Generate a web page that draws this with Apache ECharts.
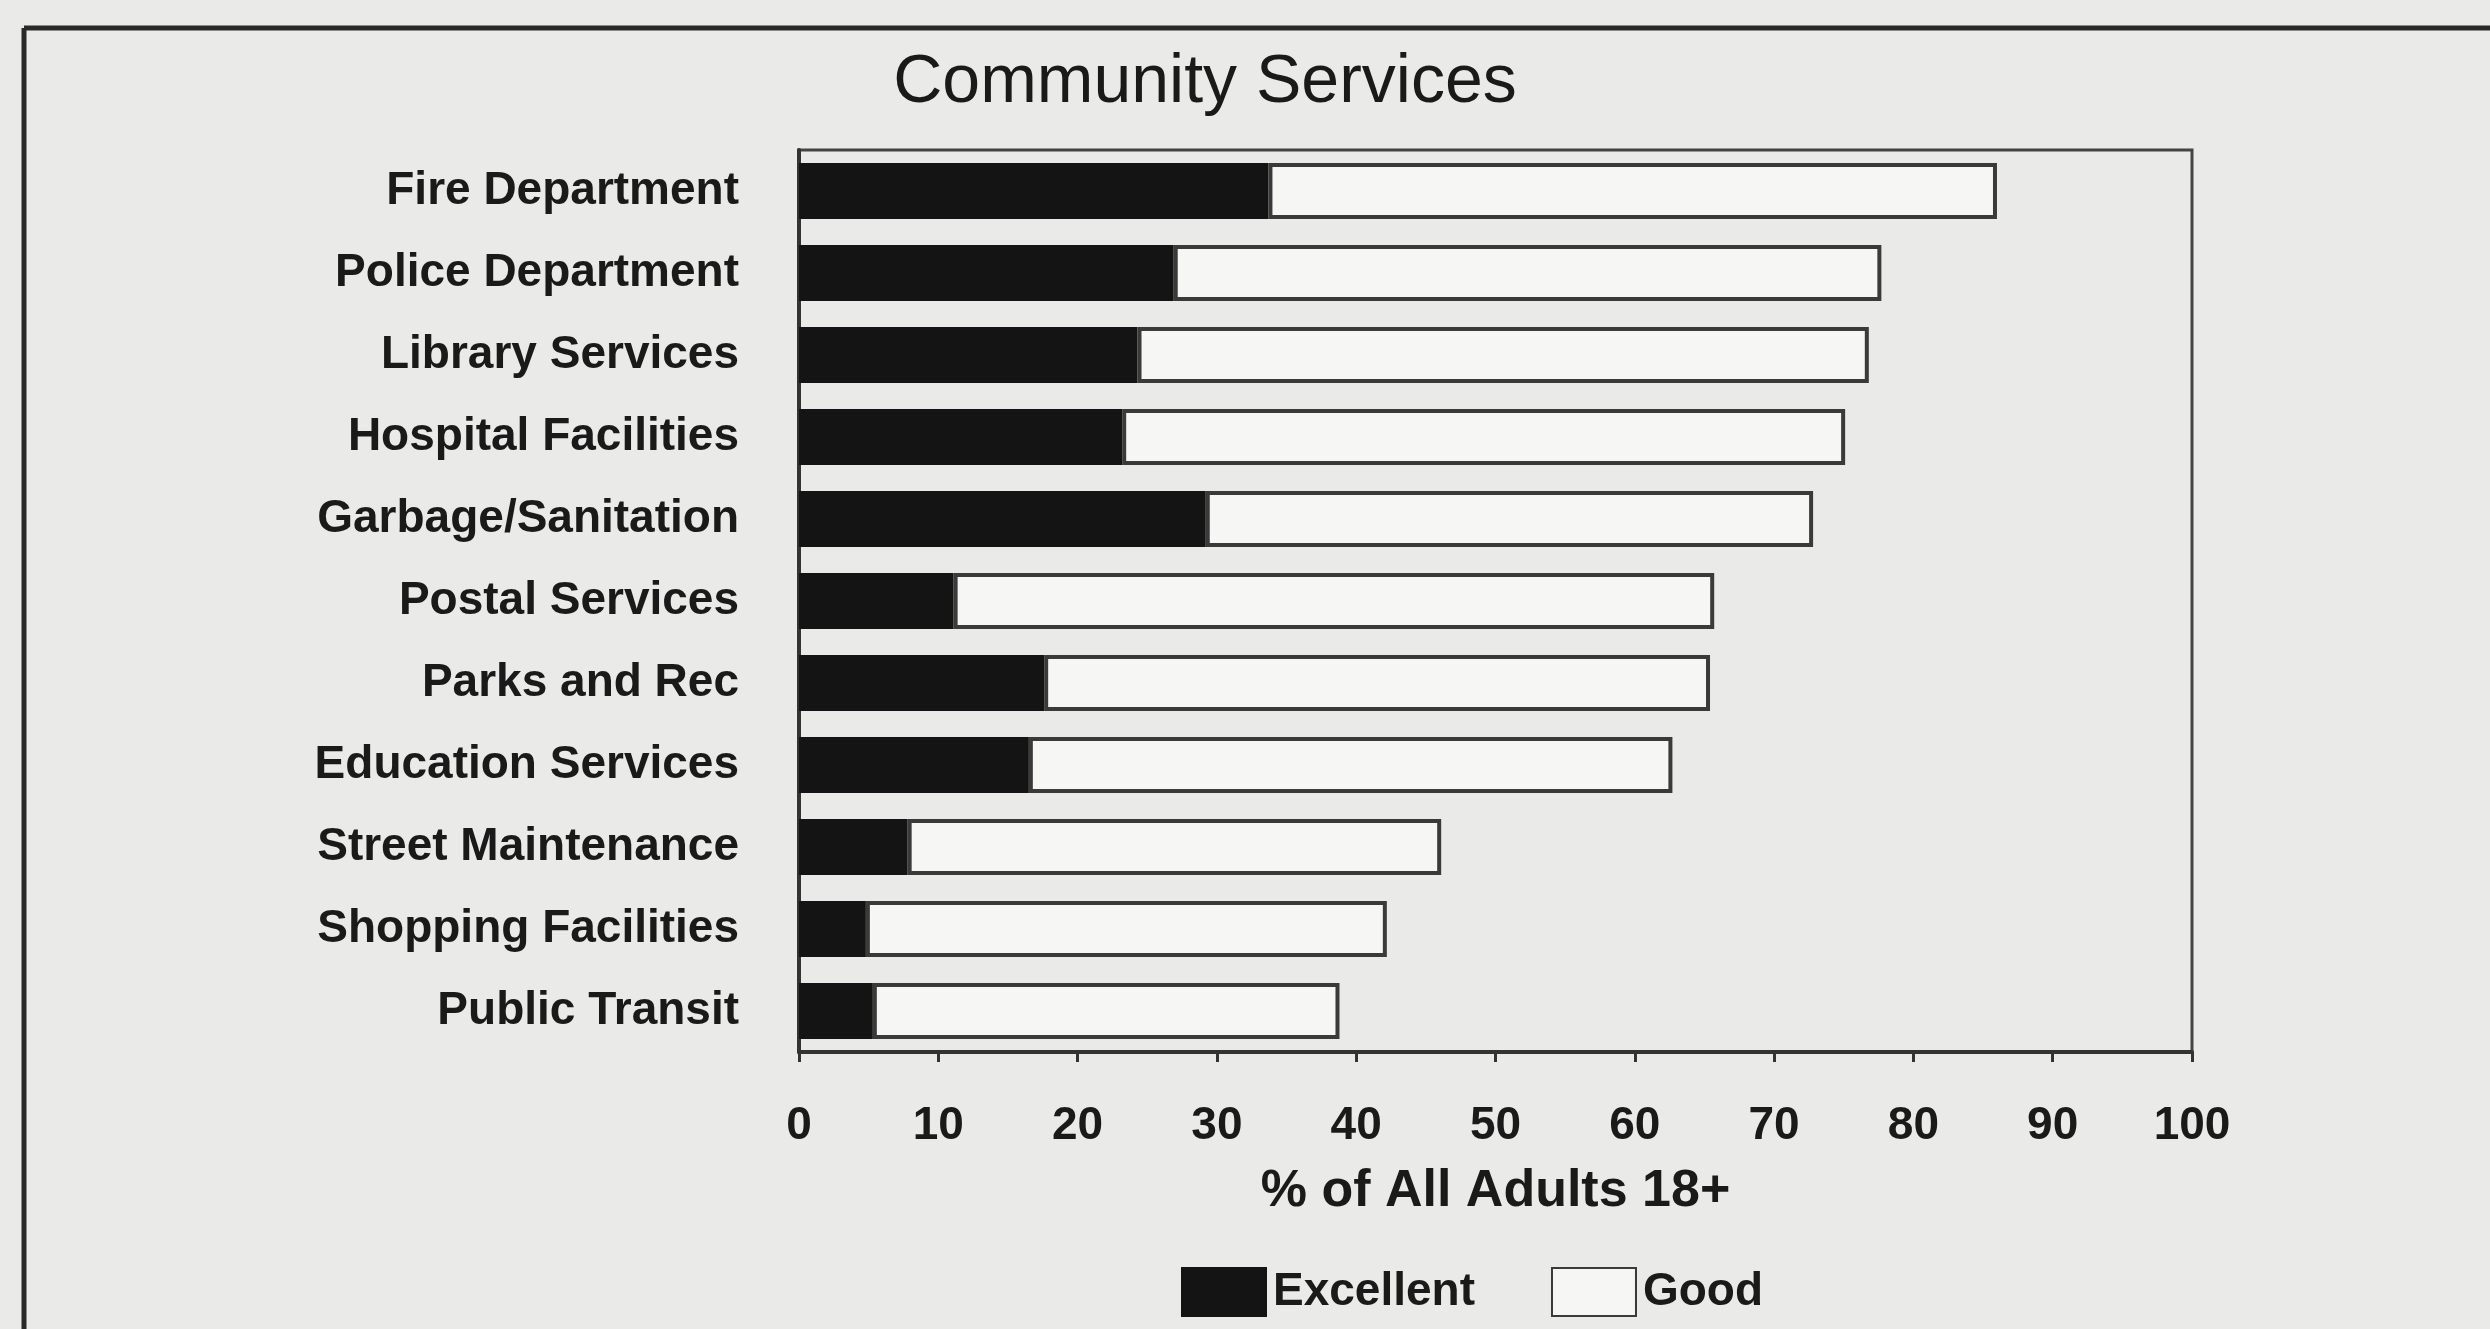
<!DOCTYPE html>
<html>
<head>
<meta charset="utf-8">
<script src="https://cdn.jsdelivr.net/npm/echarts@6/dist/echarts.min.js"></script>
<style>html,body{margin:0;padding:0;background:#eaeae8;}#c{width:2490px;height:1329px;}</style>
</head>
<body>
<div id="c"></div>
<script>
const categories = ["Fire Department","Police Department","Library Services","Hospital Facilities","Garbage/Sanitation","Postal Services","Parks and Rec","Education Services","Street Maintenance","Shopping Facilities","Public Transit"];
const excellent = [33.7, 26.9, 24.3, 23.2, 29.2, 11.1, 17.6, 16.5, 7.8, 4.8, 5.3];
const good = [52.3, 50.8, 52.5, 51.9, 43.6, 54.6, 47.8, 46.2, 38.3, 37.4, 33.5];
const xTicks = [0, 10, 20, 30, 40, 50, 60, 70, 80, 90, 100];

const FONT = '"Liberation Sans", Arial, sans-serif';
const chart = echarts.init(document.getElementById('c'));
chart.setOption({
  backgroundColor: '#eaeae8',
  animation: false,
  title: {
    text: 'Community Services',
    left: 1200, top: 44, textAlign: 'center',
    textStyle: {fontFamily: FONT, fontSize: 68, fontWeight: 'normal', color: '#1a1a1a'}
  },
  legend: {
    data: ['Excellent', 'Good'],
    left: 1176, top: 1262,
    itemWidth: 84, itemHeight: 48, itemGap: 76,
    textStyle: {fontFamily: FONT, fontSize: 46, fontWeight: 'bold', color: '#1a1a1a', padding: [0, 0, 0, 2]},
    icon: 'rect'
  },
  grid: {
    left: 799, right: 298, top: 150, bottom: 277,
    show: true, borderColor: '#444', borderWidth: 3, backgroundColor: 'transparent'
  },
  xAxis: {
    type: 'value', min: 0, max: 100, interval: 10,
    name: '% of All Adults 18+', nameLocation: 'middle', nameGap: 114,
    nameTextStyle: {fontFamily: FONT, fontSize: 52, fontWeight: 'bold', color: '#1a1a1a'},
    axisLine: {show: true, lineStyle: {color: '#333', width: 4}},
    axisTick: {show: true, length: 10, lineStyle: {color: '#333', width: 3}},
    splitLine: {show: false},
    axisLabel: {
      margin: 51, fontFamily: FONT, fontSize: 46, fontWeight: 'bold', color: '#1a1a1a',
      formatter: v => xTicks.includes(v) ? String(v) : ''
    }
  },
  yAxis: {
    type: 'category', data: categories, inverse: true,
    axisLine: {show: true, lineStyle: {color: '#333', width: 4}},
    axisTick: {show: false},
    axisLabel: {margin: 60, padding: [12, 0, 0, 0], fontFamily: FONT, fontSize: 46, fontWeight: 'bold', color: '#1a1a1a'}
  },
  series: [
    {
      name: 'Excellent', type: 'bar', stack: 'r', data: excellent, barWidth: 56,
      itemStyle: {color: '#141414', borderColor: '#141414', borderWidth: 2}
    },
    {
      name: 'Good', type: 'bar', stack: 'r', data: good, barWidth: 56,
      itemStyle: {color: '#f6f6f4', borderColor: '#3a3a3a', borderWidth: 4}
    }
  ],
  graphic: [
    {type: 'line', shape: {x1: 24, y1: 28, x2: 2490, y2: 28}, style: {stroke: '#2a2a2a', lineWidth: 5}},
    {type: 'line', shape: {x1: 24, y1: 28, x2: 24, y2: 1329}, style: {stroke: '#2a2a2a', lineWidth: 5}}
  ]
});
</script>
</body>
</html>
